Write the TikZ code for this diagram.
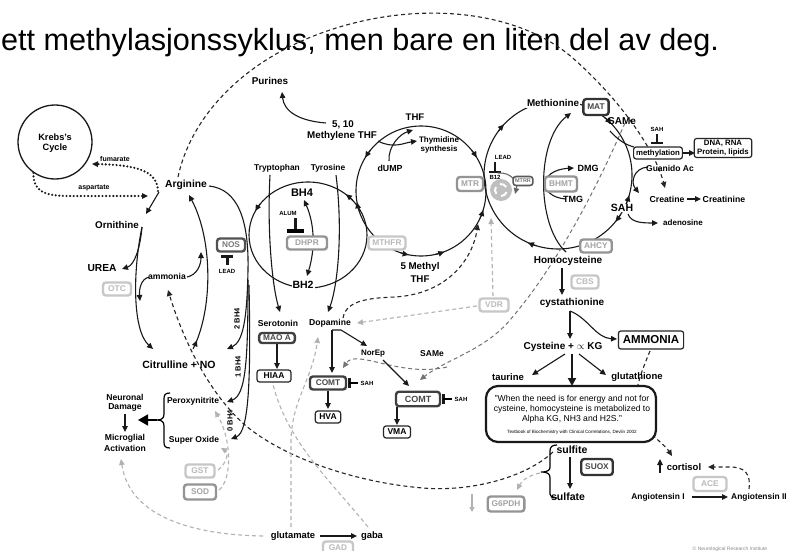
\documentclass[tikz,border=0pt]{standalone}
\usepackage{fontspec}
\setmainfont{Liberation Sans}
\usetikzlibrary{arrows.meta,decorations.markings}
\newcommand\myfs[1]{\fontsize{#1}{#1}\selectfont}
\newcommand\cArrowAt[5]{\draw[->, ln] (#1,#2) ++(#4:#3) arc[start angle=#4, end angle=#5, radius=#3];}
\newcommand\eArrowAt[2]{\draw[->, ln] (308,235) ++(#1:59 and 53) arc[start angle=#1, end angle=#2, x radius=59, y radius=53];}
\begin{document}
\begin{tikzpicture}[x=1pt,y=-1pt,
  >={Triangle[length=6pt,width=5.5pt]},
  every node/.style={inner sep=0pt},
  lbl/.style={font=\bfseries\myfs{#1}, text=black},
  ln/.style={line width=1.1pt, draw=black!90},
  arr/.style={ln, ->},
  dsh/.style={line width=1.1pt, dash pattern=on 4pt off 3pt, draw=black!85},
  gdsh/.style={line width=1.1pt, dash pattern=on 4pt off 3pt, draw=black!30},
  gdshb/.style={line width=1pt, dash pattern=on 4pt off 3pt, draw=black!55},
  dots/.style={line width=2.4pt, dash pattern=on 0pt off 3.6pt, line cap=round, draw=black!90},
  tbar/.style={line width=3pt, draw=black!90},
  enz/.style={draw, fill=white, rounded corners=3pt, line width=2.4pt, inner xsep=4pt, inner ysep=0pt, minimum height=13pt, font=\bfseries\myfs{8.3}},
  enzL/.style={enz, draw=black!22, text=black!27},
  enzM/.style={enz, draw=black!42, text=black!36},
  enzD/.style={enz, draw=black!75, text=black!72},
  pbox/.style={draw=black!85, fill=white, rounded corners=2.5pt, line width=1.2pt, inner xsep=4pt, inner ysep=0pt, minimum height=12pt, font=\bfseries\myfs{8.5}},
  amark/.style={postaction={decorate, decoration={markings, mark=at position #1 with {\arrow{>}}}}}
]
\fill[white] (0,0) rectangle (787,551);
\useasboundingbox (0,0) rectangle (787,551);

% title
\node[font=\myfs{30.6}, anchor=base west, text=black] (title) at (1,51) {ett methylasjonssyklus, men bare en liten del av deg.};

% ---------- circles ----------
\node[circle, draw=black!90, line width=1.3pt, minimum size=74pt] (krebs) at (55,142) {};
\draw[ln] (421,191) circle[radius=65];
\draw[ln] (558,175) circle[radius=74];
\draw[ln] (308,235) ellipse[x radius=59, y radius=53];
% folate arrows
\cArrowAt{421}{191}{65}{219}{211}
\cArrowAt{421}{191}{65}{162}{170}
\cArrowAt{421}{191}{65}{109}{101}
\cArrowAt{421}{191}{65}{77}{69}
\cArrowAt{421}{191}{65}{25}{17}
\cArrowAt{421}{191}{65}{321}{329}
% methionine arrows
\cArrowAt{558}{175}{74}{216}{223}
\cArrowAt{558}{175}{74}{309}{316}
\cArrowAt{558}{175}{74}{23}{16}
\cArrowAt{558}{175}{74}{32}{39}
\cArrowAt{558}{175}{74}{107}{114}
% BH4 ellipse arrows
\eArrowAt{216}{207}
\eArrowAt{319}{310}

% ---------- dashed long connectors ----------
\draw[dsh, ->] (178,177) .. controls (190,120) and (240,60) .. (330,30) .. controls (420,0) and (520,10) .. (575,60) .. controls (620,100) and (655,150) .. (665,188);
\draw[dsh, ->] (553,452) .. controls (525,478) and (470,492) .. (423,488) .. controls (350,482) and (280,455) .. (245,425) .. controls (205,390) and (180,330) .. (168,290);
\draw[dsh, ->] (343,318) .. controls (346,300) and (370,298) .. (395,297) .. controls (445,294) and (472,262) .. (478,224);
\draw[dsh, ->] (650,351) .. controls (640,375) and (630,400) .. (640,420) .. controls (650,435) and (665,445) .. (672,456);
\draw[dsh, ->] (749,489) .. controls (751,474) and (745,467) .. (730,467) -- (708,467);
\draw[gdshb, ->] (625,123) .. controls (600,180) and (560,262) .. (510,320) .. controls (485,350) and (445,360) .. (420,380);
\draw[gdshb, ->] (447,367) .. controls (400,378) and (356,348) .. (343,368);
% grey dashed
\draw[gdsh, ->] (477,306) -- (357,323);
\draw[gdsh, ->] (493,296) -- (491,218);
\draw[gdsh, ->] (263,536) .. controls (200,535) and (130,520) .. (121,459);
\draw[gdsh, ->] (291,527) -- (291,440) .. controls (292,400) and (312,380) .. (318,337);
\draw[gdsh] (368,527) .. controls (330,480) and (285,440) .. (272,380);
\draw[gdsh, ->] (218,470) .. controls (228,462) and (228,452) .. (221,448);
\draw[gdsh, ->] (219,490) .. controls (232,480) and (232,440) .. (215,411);
\draw[gdsh, ->] (540,473) .. controls (530,475) and (522,480) .. (517,490);
\draw[black!30, line width=1.3pt, -{Triangle[length=5pt,width=5pt]}] (472,494) -- (472,512);

% ---------- Krebs / urea ----------
\draw[dots, ->] (158,191) .. controls (157,172) and (140,165) .. (92,164);
\draw[dots, ->] (krebs.235) .. controls (33,192) and (45,196) .. (70,196) -- (148,196);
\draw[arr] (159,192) -- (146,214);
\draw[arr] (142,227) .. controls (140,250) and (134,265) .. (122,269);
\draw[arr] (142,227) .. controls (133,270) and (132,330) .. (153,349);
\draw[arr] (149,277) .. controls (141,279) and (139,289) .. (140,301);
\draw[arr] (187,277) .. controls (197,275) and (201,265) .. (201,252);
\draw[arr, amark=0.06] (193,349) .. controls (213,310) and (213,240) .. (189,195);
\draw[arr] (209,186) .. controls (238,189) and (249,220) .. (248,270) .. controls (247,320) and (243,342) .. (227,349);
\draw[arr] (248,280) .. controls (248,360) and (246,395) .. (227,402);
\draw[arr] (249,285) .. controls (251,380) and (249,432) .. (231,439);
\draw[tbar] (227,256) -- (227,265);
\draw[tbar] (221,256) -- (233,256);

% ---------- folate ----------
\draw[arr] (326,123) .. controls (300,121) and (284,112) .. (282,92);
\draw[arr] (378,141) .. controls (393,149) and (404,143) .. (417,141);
\draw[arr] (389,161) .. controls (388,146) and (400,134) .. (413,130);

% ---------- BH4 / neuro ----------
\draw[arr] (270,175) .. controls (267,230) and (272,285) .. (280,312);
\draw[arr] (336,175) .. controls (343,230) and (338,285) .. (328,312);
\draw[<->, ln] (304,200) .. controls (315,225) and (315,250) .. (307,276);
\draw[tbar] (295,218) -- (295,230);
\draw[line width=3.5pt] (287,231) -- (304,231);
\draw[arr] (277,344) -- (277,369);
\draw[arr] (332,330) -- (332,373);
\draw[arr] (332,330) -- (341,330) -- (367,346);
\draw[arr] (383,360) -- (409,386);
\draw[arr] (328,391) -- (328,409);
\draw[arr] (397,407) -- (397,425);
\draw[tbar] (349,378) -- (349,388);
\draw[line width=2.5pt] (349,383) -- (358,383);
\draw[tbar] (443,394) -- (443,404);
\draw[line width=2.5pt] (443,399) -- (452,399);

% ---------- methionine ----------
\draw[tbar, line width=2.5pt] (495,162) -- (495,171);
\draw[tbar, line width=2.5pt] (489,172) -- (501,172);
\fill[black!25] (501,190) circle[radius=11];
\foreach \a in {0,120,240}{\draw[white, line width=2pt] (501,190) ++(\a+20:6) arc[start angle=\a+20, end angle=\a+90, radius=6];}
\draw[->, line width=1.1pt, draw=black!60] (498,173) .. controls (512,172) and (518,183) .. (515,194);
\draw[->, ln] (566,199) .. controls (538,197) and (538,170) .. (574,168);
\draw[arr] (566,252) .. controls (536,225) and (536,140) .. (571,113);
\draw[ln] (610,131) .. controls (618,140) and (626,145) .. (634,147);
\draw[tbar, line width=2.5pt] (657,134) -- (657,142);
\draw[tbar, line width=2.5pt] (651,143) -- (663,143);
\draw[arr] (683,153) -- (695,153);
\draw[arr] (648,167) .. controls (634,168) and (630,182) .. (639,193);
\draw[arr] (687,199) -- (701,199);
\draw[arr] (628,214) .. controls (631,222) and (640,223) .. (658,223);
\draw[arr] (562,268) -- (562,295);
\draw[arr] (570,311) -- (570,339);
\draw[arr] (570,311) .. controls (588,318) and (596,338) .. (617,339);
\draw[arr] (565,354) -- (532,375);
\draw[arr] (579,354) -- (606,375);
\draw[line width=2.6pt, draw=black!90, -{Triangle[length=8pt,width=8pt]}] (572,354) -- (572,386);

% ---------- sulfur / cortisol ----------
\draw[arr] (570,457) -- (570,489);
\draw[line width=1.2pt] (557,445) .. controls (552,445) and (550,447) .. (550,451) -- (550,467) .. controls (550,470) and (548,472) .. (541,472) .. controls (548,472) and (550,474) .. (550,478) -- (550,494) .. controls (550,497) and (552,498) .. (557,498);
\draw[arr] (660,473) -- (660,459);
\draw[arr] (692,497) -- (728,497);

% ---------- neuro damage ----------
\draw[line width=1.2pt] (170,393) .. controls (165,393) and (164,395) .. (164,399) -- (164,414) .. controls (164,418) and (162,420) .. (157,420) .. controls (162,420) and (164,422) .. (164,426) -- (164,442) .. controls (164,446) and (165,448) .. (170,448);
\draw[line width=1.5pt, -{Triangle[length=10pt,width=11pt]}] (157,420) -- (138,420);
\draw[arr] (125,414) -- (125,432);
\draw[arr] (320,536) -- (357,536);

% ---------- nodes ----------
\node[lbl=9.2] (krebsA) at (55,137) {Krebs's};
\node[lbl=9.2] (krebsB) at (55,148) {Cycle};
\node[lbl=7] (fum) at (115,159) {fumarate};
\node[lbl=7] (asp) at (94,188) {aspartate};
\node[lbl=10.3] (arg) at (186,185) {Arginine};
\node[lbl=9.8] (orn) at (117,225) {Ornithine};
\node[lbl=10.2] (urea) at (102,268) {UREA};
\node[lbl=8.6] (amm) at (167,276) {ammonia};
\node[lbl=10.5] (cit) at (179,365) {Citrulline + NO};
\node[enzL, minimum width=28pt] (otc) at (117,289) {OTC};
\node[enz, draw=black!68, text=black!52, minimum width=28pt] (nos) at (231,245) {NOS};
\node[lbl=6] (lead1) at (227,271) {LEAD};
\node[lbl=7.5, rotate=90] (bh4a) at (237,319) {2 BH4};
\node[lbl=7.5, rotate=90] (bh4b) at (238,367) {1 BH4};
\node[lbl=7.5, rotate=90] (bh4c) at (230,421) {0 BH4};

\node[lbl=9.9] (pur) at (270,81) {Purines};
\node[lbl=9.8] (m510a) at (343,125) {5, 10};
\node[lbl=9.8] (m510b) at (342,136) {Methylene THF};
\node[lbl=9.6] (thf) at (415,117) {THF};
\node[lbl=8] (thy1) at (439,140) {Thymidine};
\node[lbl=8] (thy2) at (439,149) {synthesis};
\node[lbl=8.8] (dump) at (390,168) {dUMP};
\node[lbl=9.75] (mthf1) at (420,267) {5 Methyl};
\node[lbl=9.75] (mthf2) at (420,279) {THF};
\node[enzL] (mthfr) at (387,243) {MTHFR};
\node[enzM, minimum height=14pt] (mtr) at (470,184) {MTR};

\node[lbl=8.4] (trp) at (277,168) {Tryptophan};
\node[lbl=8.4] (tyr) at (328,168) {Tyrosine};
\node[lbl=11] (bh4) at (302,193) {BH4};
\node[lbl=10.5, fill=white, inner sep=1pt] (bh2) at (303,285) {BH2};
\node[lbl=6] (alum) at (288,213) {ALUM};
\node[enzM, minimum width=40pt] (dhpr) at (307,243) {DHPR};

\node[lbl=8.6] (ser) at (278,323) {Serotonin};
\node[lbl=8.6] (dop) at (330,323) {Dopamine};
\node[enzD, minimum height=10pt] (mao) at (277,338) {MAO A};
\node[pbox, minimum width=34pt] (hiaa) at (274,376) {HIAA};
\node[lbl=8] (norep) at (373,354) {NorEp};
\node[lbl=8.5] (same2) at (432,354) {SAMe};
\node[enzD, minimum width=36pt] (comt1) at (328,383) {COMT};
\node[lbl=6] (sah1) at (367,383) {SAH};
\node[pbox] (hva) at (328,417) {HVA};
\node[enzD, minimum width=44pt, minimum height=14.5pt, font=\bfseries\myfs{9}] (comt2) at (418,399) {COMT};
\node[lbl=6] (sah2) at (461,399) {SAH};
\node[pbox] (vma) at (397,432) {VMA};
\node[enzL, minimum width=29pt] (vdr) at (494,305) {VDR};

\node[lbl=9.85, fill=white, inner sep=1pt] (met) at (553,103) {Methionine};
\node[enzD, minimum height=16pt, draw=black!80] (mat) at (596,107) {MAT};
\node[lbl=10] (same) at (622,121) {SAMe};
\node[lbl=6] (sah3) at (657,129) {SAH};
\node[pbox, font=\bfseries\myfs{7.8}, inner xsep=2.5pt] (methyl) at (658,153) {methylation};
\node[pbox, font=\bfseries\fontsize{7.8}{9}\selectfont, align=center, inner xsep=3pt, inner ysep=1.5pt] (dna) at (723,148) {DNA, RNA\\Protein, lipids};
\node[lbl=6] (lead2) at (503,157) {LEAD};
\node[lbl=6] (b12) at (495,177) {B12};
\node[enz, draw=black!65, text=black!55, font=\bfseries\myfs{5.5}, line width=1.6pt, minimum height=9pt, inner xsep=2pt] (mtrr) at (523,181) {MTRR};
\node[enzM, minimum height=15pt] (bhmt) at (561,184) {BHMT};
\node[lbl=9] (dmg) at (588,168) {DMG};
\node[lbl=9] (tmg) at (573,199) {TMG};
\node[lbl=10.5, fill=white, inner sep=0.5pt] (sah) at (622,208) {SAH};
\node[lbl=8] (aden) at (683,223) {adenosine};
\node[lbl=8.5] (guan) at (670,168) {Guanido Ac};
\node[lbl=8.7] (crea) at (667,199) {Creatine};
\node[lbl=8.7] (crein) at (724,199) {Creatinine};
\node[enzM] (ahcy) at (596,246) {AHCY};
\node[lbl=10] (hcy) at (568,261) {Homocysteine};
\node[enzL, minimum width=27pt] (cbs) at (585,282) {CBS};
\node[lbl=10] (cysta) at (572,303) {cystathionine};
\node[pbox, font=\bfseries\myfs{11.5}, minimum height=18pt, inner xsep=4.5pt] (ammonia2) at (651,340) {AMMONIA};
\node[lbl=10] (cys) at (563,347) {Cysteine + $\propto$ KG};
\node[lbl=9.5] (taur) at (508,377) {taurine};
\node[lbl=9.5] (glut) at (637,377) {glutathione};

\node[draw=black!90, fill=white, line width=2.2pt, rounded corners=12pt, minimum width=170pt, minimum height=56pt] (quote) at (571,414) {};
\node[font=\myfs{8.6}] (q1) at (572,399) {"When the need is for energy and not for};
\node[font=\myfs{8.6}] (q2) at (572,409) {cysteine, homocysteine is metabolized to};
\node[font=\myfs{8.6}] (q3) at (572,419) {Alpha KG, NH3 and H2S."};
\node[font=\myfs{4.6}] (q4) at (572,432) {Textbook of Biochemistry with Clinical Correlations, Devlin 2002};

\node[lbl=10.5] (sulfite) at (572,450) {sulfite};
\node[lbl=10.5] (sulfate) at (568,497) {sulfate};
\node[enzD, minimum height=16pt, draw=black!80] (suox) at (597,467) {SUOX};
\node[enzM, minimum height=15pt] (g6pd) at (506,504) {G6PDH};
\node[lbl=9.5] (cort) at (684,467) {cortisol};
\node[enzL, minimum height=14pt, minimum width=33pt] (ace) at (710,484) {ACE};
\node[lbl=8.4] (ang1) at (658,497) {Angiotensin I};
\node[lbl=8.4, anchor=west] (ang2) at (731,497) {Angiotensin II};

\node[lbl=8.5] (perox) at (193,401) {Peroxynitrite};
\node[lbl=8.5] (supox) at (194,440) {Super Oxide};
\node[lbl=8.6] (neur1) at (125,397) {Neuronal};
\node[lbl=8.6] (neur2) at (125,407) {Damage};
\node[lbl=8.6] (micro1) at (125,438) {Microglial};
\node[lbl=8.6] (micro2) at (125,448) {Activation};
\node[enzL, minimum width=29pt] (gst) at (200,471) {GST};
\node[enzM, minimum height=15pt, minimum width=32pt] (sod) at (200,492) {SOD};
\node[lbl=9.4] (glu) at (293,536) {glutamate};
\node[lbl=9.4] (gaba) at (372,536) {gaba};
\node[enzL, minimum width=30pt] (gad) at (338,548) {GAD};
\node[font=\myfs{5}, text=black!45] (copy) at (730,549) {\textcopyright{} Neurological Research Institute};
\end{tikzpicture}
\end{document}
